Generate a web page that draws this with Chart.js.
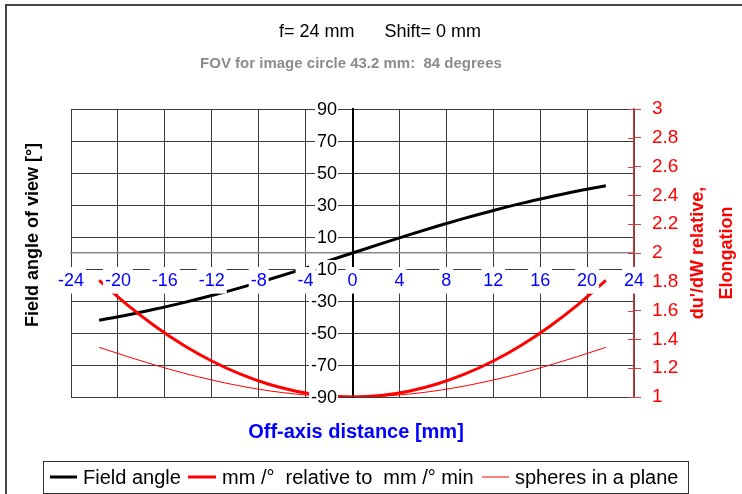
<!DOCTYPE html>
<html>
<head>
<meta charset="utf-8">
<script src="https://cdn.jsdelivr.net/npm/chart.js@4/dist/chart.umd.min.js"></script>
<style>
  html, body { margin: 0; padding: 0; background: #fff; }
  canvas { display: block; }
</style>
</head>
<body>
<canvas id="fovChart" width="742" height="494"></canvas>
<script>
// off-axis distance in mm (image circle 43.2 mm -> +-21.6)
const offAxis = [-21.6, -19.2, -16.8, -14.4, -12, -9.6, -7.2, -4.8, -2.4, 0,
                 2.4, 4.8, 7.2, 9.6, 12, 14.4, 16.8, 19.2, 21.6];

// field angle of view [deg], left axis
const fieldAngle = [-42.0, -38.7, -35.0, -31.0, -26.6, -21.8, -16.7, -11.3, -5.7, 0,
                    5.7, 11.3, 16.7, 21.8, 26.6, 31.0, 35.0, 38.7, 42.0];

// mm/deg relative to mm/deg min, right axis
const mmPerDeg = [1.81, 1.64, 1.49, 1.36, 1.25, 1.16, 1.09, 1.04, 1.01, 1.00,
                  1.01, 1.04, 1.09, 1.16, 1.25, 1.36, 1.49, 1.64, 1.81];

// spheres in a plane (elongation), right axis
const spheres = [1.345, 1.281, 1.221, 1.166, 1.118, 1.077, 1.044, 1.020, 1.005, 1.000,
                 1.005, 1.020, 1.044, 1.077, 1.118, 1.166, 1.221, 1.281, 1.345];

const xTicks = [-24, -20, -16, -12, -8, -4, 0, 4, 8, 12, 16, 20, 24];
const leftTicks = [-90, -70, -50, -30, -10, 10, 30, 50, 70, 90];
const rightTicks = [1, 1.2, 1.4, 1.6, 1.8, 2, 2.2, 2.4, 2.6, 2.8, 3];

const FONT = "'Liberation Sans', Arial, sans-serif";

function pts(ys) {
  return offAxis.map((x, i) => ({ x: x, y: ys[i] }));
}

const fmt = v => String(+Number(v).toFixed(1));

// frame, left tick labels, titles and legend drawn straight on the canvas
const decor = {
  id: 'decor',
  beforeDraw(chart) {
    const c = chart.ctx;
    c.save();
    c.fillStyle = '#fff';
    c.fillRect(0, 0, chart.width, chart.height);
    c.strokeStyle = '#444';
    c.lineWidth = 2;
    c.beginPath();
    c.moveTo(6, 494);
    c.lineTo(6, 5);
    c.lineTo(742, 5);
    c.stroke();
    c.restore();
  },
  afterDatasetsDraw(chart) {
    const c = chart.ctx;
    const ys = chart.scales.y;
    const y2 = chart.scales.y2;
    c.save();
    // left axis labels sit left of the x=0 axis, on a white box
    c.font = '18px ' + FONT;
    c.textAlign = 'right';
    c.textBaseline = 'middle';
    leftTicks.forEach(v => {
      const py = ys.getPixelForValue(v);
      const txt = fmt(v);
      const w = c.measureText(txt).width;
      c.fillStyle = '#fff';
      c.fillRect(337 - w - 2, py - 9, w + 3, 18);
      c.fillStyle = '#000';
      c.fillText(txt, 337, py + 1);
    });
    // inner half of the red tick marks
    c.strokeStyle = '#d04040';
    c.lineWidth = 1;
    const ax = y2.left;
    rightTicks.forEach(v => {
      const py = Math.round(y2.getPixelForValue(v)) + 0.5;
      c.beginPath();
      c.moveTo(ax - 6, py);
      c.lineTo(ax, py);
      c.stroke();
    });
    c.restore();
  },
  afterDraw(chart) {
    const c = chart.ctx;
    c.save();
    c.textBaseline = 'middle';
    c.textAlign = 'center';

    c.fillStyle = '#000';
    c.font = '18px ' + FONT;
    c.fillText('f= 24 mm      Shift= 0 mm', 380, 32);

    c.fillStyle = '#8c8c8c';
    c.font = 'bold 15px ' + FONT;
    c.fillText('FOV for image circle 43.2 mm:  84 degrees', 351, 64);

    c.fillStyle = '#0000ff';
    c.font = 'bold 20px ' + FONT;
    c.fillText('Off-axis distance [mm]', 356, 432);

    c.save();
    c.translate(33, 235);
    c.rotate(-Math.PI / 2);
    c.fillStyle = '#000';
    c.font = 'bold 18px ' + FONT;
    c.fillText('Field angle of view [°]', 0, 0);
    c.restore();

    c.save();
    c.translate(712, 253);
    c.rotate(-Math.PI / 2);
    c.fillStyle = '#ff0000';
    c.font = 'bold 18px ' + FONT;
    c.fillText("du'/dW relative,", 0, -14);
    c.fillText('Elongation', 0, 15);
    c.restore();

    // legend
    c.fillStyle = '#fff';
    c.fillRect(43, 461, 645, 32);
    c.strokeStyle = '#333';
    c.lineWidth = 1;
    c.strokeRect(43.5, 461.5, 645, 32);
    const items = [
      { x: 50, w: 27, color: '#000', lw: 3, text: 'Field angle' },
      { x: 188, w: 28, color: '#ff0000', lw: 3, text: 'mm /°  relative to  mm /° min' },
      { x: 482, w: 27, color: '#ff0000', lw: 1, text: 'spheres in a plane' }
    ];
    c.font = '20px ' + FONT;
    c.textAlign = 'left';
    items.forEach(it => {
      c.strokeStyle = it.color;
      c.lineWidth = it.lw;
      c.beginPath();
      c.moveTo(it.x, 477);
      c.lineTo(it.x + it.w, 477);
      c.stroke();
      c.fillStyle = '#000';
      c.fillText(it.text, it.x + it.w + 6, 478);
    });
    c.restore();
  }
};

new Chart(document.getElementById('fovChart'), {
  type: 'scatter',
  data: {
    datasets: [
      {
        label: 'mm /°  relative to  mm /° min',
        data: pts(mmPerDeg),
        yAxisID: 'y2',
        showLine: true,
        borderColor: '#ff0000',
        borderWidth: 3,
        pointRadius: 0,
        cubicInterpolationMode: 'monotone'
      },
      {
        label: 'spheres in a plane',
        data: pts(spheres),
        yAxisID: 'y2',
        showLine: true,
        borderColor: '#ff0000',
        borderWidth: 1,
        pointRadius: 0,
        cubicInterpolationMode: 'monotone'
      },
      {
        label: 'Field angle',
        data: pts(fieldAngle),
        yAxisID: 'y',
        showLine: true,
        borderColor: '#000',
        borderWidth: 3,
        pointRadius: 0,
        cubicInterpolationMode: 'monotone'
      }
    ]
  },
  options: {
    responsive: false,
    devicePixelRatio: 1,
    animation: false,
    layout: { padding: { left: 71, top: 109, right: 0, bottom: 97 } },
    plugins: {
      legend: { display: false },
      title: { display: false },
      tooltip: { enabled: false }
    },
    scales: {
      x: {
        type: 'linear',
        axis: 'x',
        position: { y: 0 },
        min: -24,
        max: 24,
        afterBuildTicks: s => { s.ticks = xTicks.map(v => ({ value: v })); },
        grid: { color: '#3a3a3a', lineWidth: 1, tickLength: 5 },
        border: { color: '#888', width: 1.5 },
        ticks: {
          z: 1,
          color: '#0000ff',
          font: { family: FONT, size: 18 },
          padding: 12,
          maxRotation: 0,
          autoSkip: false,
          callback: fmt,
          showLabelBackdrop: true,
          backdropColor: '#fff',
          backdropPadding: { top: 3, bottom: 2, left: 2, right: 2 }
        }
      },
      y: {
        type: 'linear',
        axis: 'y',
        position: { x: 0 },
        min: -90,
        max: 90,
        afterBuildTicks: s => { s.ticks = leftTicks.map(v => ({ value: v })); },
        grid: { color: '#3a3a3a', lineWidth: 1, tickLength: 12 },
        border: { color: '#000', width: 2 },
        ticks: { display: false }
      },
      y2: {
        type: 'linear',
        axis: 'y',
        position: 'right',
        min: 1,
        max: 3,
        afterBuildTicks: s => { s.ticks = rightTicks.map(v => ({ value: v })); },
        afterFit: s => { s.width = 108; },
        grid: { drawOnChartArea: false, color: '#d04040', tickLength: 7 },
        border: { color: '#c83c3c', width: 1.5 },
        ticks: {
          color: '#ff0000',
          font: { family: FONT, size: 19 },
          padding: 11,
          callback: fmt
        }
      }
    }
  },
  plugins: [decor]
});
</script>
</body>
</html>
